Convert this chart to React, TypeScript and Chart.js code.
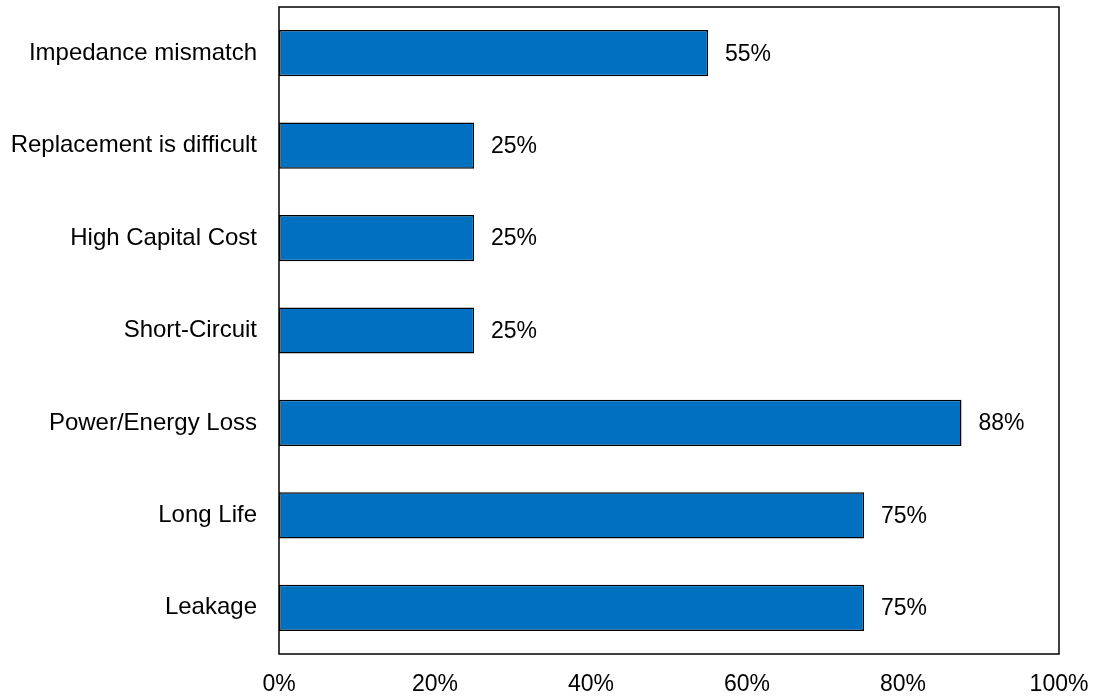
import React, { useEffect, useRef } from "react";
import { Chart, registerables } from "chart.js";

Chart.register(...registerables);

const categories = [
  "Impedance mismatch",
  "Replacement is difficult",
  "High Capital Cost",
  "Short-Circuit",
  "Power/Energy Loss",
  "Long Life",
  "Leakage",
];
const values = [55, 25, 25, 25, 87.5, 75, 75];
const xTicks = [0, 20, 40, 60, 80, 100];

const FONT = "'Liberation Sans', Arial, sans-serif";

const framePlugin = {
  id: "frame",
  afterDatasetsDraw(chart: any) {
    const { ctx, chartArea } = chart;
    ctx.save();
    ctx.strokeStyle = "#000";
    ctx.lineWidth = 1.5;
    ctx.strokeRect(chartArea.left, chartArea.top, chartArea.right - chartArea.left, chartArea.bottom - chartArea.top);
    ctx.restore();
  },
};

const labelPlugin = {
  id: "valueLabels",
  afterDatasetsDraw(chart: any) {
    const { ctx } = chart;
    const meta = chart.getDatasetMeta(0);
    ctx.save();
    ctx.fillStyle = "#000";
    ctx.font = `23px ${FONT}`;
    ctx.textAlign = "left";
    ctx.textBaseline = "middle";
    meta.data.forEach((bar: any, i: number) => {
      ctx.fillText(`${Math.round(values[i])}%`, bar.x + 17, bar.y + 1);
    });
    ctx.restore();
  },
};

function zeroPadding(scale: any) {
  scale.paddingTop = 0;
  scale.paddingBottom = 0;
  scale.paddingLeft = 0;
  scale.paddingRight = 0;
}

export default function App() {
  const ref = useRef<HTMLCanvasElement>(null);
  useEffect(() => {
    if (!ref.current) return;
    const chart = new Chart(ref.current, {
      type: "bar",
      data: {
        labels: categories,
        datasets: [
          {
            data: values,
            backgroundColor: "#0070C0",
            borderColor: "#000",
            borderWidth: 1.5,
            borderSkipped: false,
            barPercentage: 0.5,
            categoryPercentage: 1,
          },
        ],
      },
      options: {
        indexAxis: "y",
        responsive: false,
        animation: false,
        layout: { padding: { top: 7, right: 37, left: 0, bottom: 0 } },
        plugins: { legend: { display: false }, tooltip: { enabled: false } },
        scales: {
          x: {
            min: 0,
            max: 100,
            afterBuildTicks(scale: any) {
              scale.ticks = xTicks.map((v) => ({ value: v }));
            },
            afterFit(scale: any) {
              scale.height = 43;
              zeroPadding(scale);
            },
            grid: { display: false, drawTicks: false },
            border: { display: false },
            ticks: {
              color: "#000",
              font: { family: FONT, size: 23 },
              padding: 17,
              maxRotation: 0,
              autoSkip: false,
              callback: (v: any) => `${v}%`,
            },
          },
          y: {
            afterFit(scale: any) {
              scale.width = 279;
              zeroPadding(scale);
            },
            grid: { display: false, drawTicks: false },
            border: { display: false },
            ticks: {
              color: "#000",
              font: { family: FONT, size: 24 },
              padding: 22,
              autoSkip: false,
            },
          },
        },
      },
      plugins: [framePlugin, labelPlugin],
    });
    return () => chart.destroy();
  }, []);
  return (
    <div style={{ position: "fixed", left: 0, top: 0, width: 1096, height: 697, background: "#fff" }}>
      <canvas ref={ref} width={1096} height={697} style={{ width: 1096, height: 697 }} />
    </div>
  );
}
